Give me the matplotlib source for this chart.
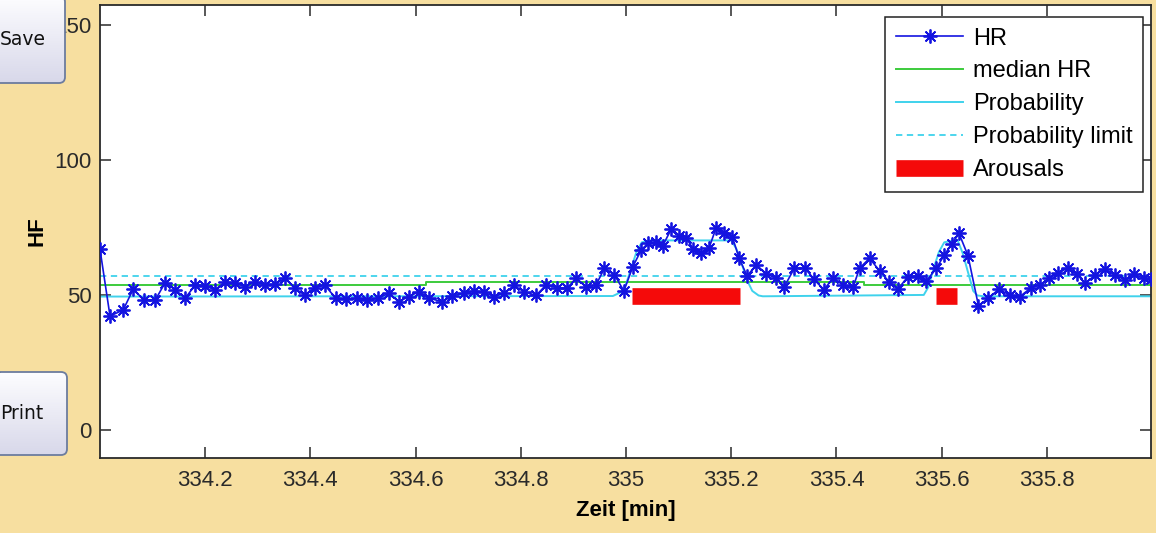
import numpy as np
import matplotlib
matplotlib.use("Agg")
import matplotlib.pyplot as plt
from matplotlib.colors import LinearSegmentedColormap
from matplotlib.patches import FancyBboxPatch

# Heart rate per beat (time in minutes, beats per minute)
hr_t = [334.000, 334.019, 334.044, 334.063, 334.084, 334.105, 334.124, 334.143,
        334.162, 334.181, 334.200, 334.219, 334.238, 334.257, 334.276, 334.295,
        334.314, 334.333, 334.352, 334.370, 334.389, 334.408, 334.427, 334.448,
        334.467, 334.489, 334.508, 334.529, 334.549, 334.568, 334.587, 334.606,
        334.625, 334.651, 334.670, 334.692, 334.711, 334.730, 334.749, 334.768,
        334.787, 334.806, 334.829, 334.848, 334.869, 334.888, 334.905, 334.924,
        334.943, 334.959, 334.978, 334.996, 335.013, 335.029, 335.042, 335.057,
        335.070, 335.086, 335.101, 335.114, 335.128, 335.143, 335.158, 335.171,
        335.187, 335.202, 335.215, 335.230, 335.248, 335.267, 335.286, 335.301,
        335.320, 335.340, 335.357, 335.376, 335.394, 335.413, 335.432, 335.444,
        335.463, 335.482, 335.500, 335.517, 335.536, 335.556, 335.571, 335.590,
        335.605, 335.619, 335.633, 335.650, 335.670, 335.689, 335.709, 335.730,
        335.749, 335.770, 335.787, 335.804, 335.822, 335.840, 335.857, 335.873,
        335.892, 335.910, 335.929, 335.948, 335.965, 335.984, 335.998]
hr_v = [66.9, 42.2, 44.4, 52.1, 48.1, 48.1, 54.6, 51.9,
        48.8, 53.7, 53.3, 51.9, 54.9, 54.3, 53.1, 54.9,
        53.7, 54.0, 56.2, 52.5, 50.0, 52.5, 53.7, 48.8,
        48.4, 48.8, 48.1, 48.8, 50.6, 47.5, 49.4, 51.2,
        48.8, 47.5, 49.7, 50.6, 51.5, 51.0, 49.4, 50.6,
        53.5, 51.2, 49.8, 53.7, 52.7, 52.5, 56.2, 53.1,
        53.7, 59.9, 57.4, 51.5, 60.5, 66.7, 69.1, 69.5,
        68.3, 74.4, 71.9, 71.2, 67.0, 65.4, 67.5, 74.7,
        72.8, 71.6, 63.6, 57.1, 61.1, 57.7, 56.2, 53.1,
        59.9, 59.9, 55.9, 51.9, 56.4, 53.5, 53.1, 59.9,
        63.6, 58.9, 54.9, 52.2, 56.8, 57.1, 55.2, 59.9,
        64.8, 68.8, 72.8, 64.6, 46.0, 48.8, 52.2, 49.8,
        49.4, 52.7, 53.7, 56.2, 58.0, 60.1, 57.7, 54.3,
        57.4, 59.6, 57.4, 55.6, 57.7, 56.2, 55.9]

# Running median of HR (piecewise constant)
median_t = [334.000, 334.619, 335.453, 335.998]
median_v = [53.7, 54.9, 53.8, 53.8]

# Arousal probability, scaled onto the HR axis
prob_t = [334.000, 334.975, 334.990, 335.000, 335.010, 335.020, 335.030, 335.045,
          335.200, 335.210, 335.220, 335.230, 335.240, 335.252, 335.260, 335.566,
          335.575, 335.585, 335.595, 335.605, 335.630, 335.640, 335.650, 335.660,
          335.668, 335.680, 335.998]
prob_v = [49.4, 49.6, 51.0, 54.0, 60.0, 66.0, 69.5, 70.2,
          70.2, 67.0, 61.5, 55.5, 51.5, 49.8, 49.5, 50.0,
          53.0, 60.0, 66.0, 69.5, 70.4, 65.5, 58.5, 51.5,
          49.8, 49.5, 49.5]
prob_limit = 57.0

# Detected arousals
arousal_start = [335.011, 335.589]
arousal_end = [335.216, 335.630]
arousal_level = 49.6

x_ticks = [334.2, 334.4, 334.6, 334.8, 335.0, 335.2, 335.4, 335.6, 335.8]
x_labels = ["334.2", "334.4", "334.6", "334.8", "335", "335.2", "335.4", "335.6", "335.8"]
y_ticks = [0, 50, 100, 150]

BG = "#F7DFA0"
W, H = 1156, 533
plt.rcParams["font.family"] = ["Liberation Sans", "DejaVu Sans"]

fig = plt.figure(figsize=(W / 100, H / 100), dpi=100, facecolor=BG)
ax = fig.add_axes([100 / W, 1 - 458 / H, 1051 / W, 453 / H])

ax.plot(hr_t, hr_v, color="#1414E0", lw=1.2, marker=(8, 2, 0), ms=10, mew=1.3,
        label="HR", zorder=3)
ax.plot(median_t, median_v, drawstyle="steps-post", color="#3CCB3C", lw=1.4,
        label="median HR", zorder=2)
ax.plot(prob_t, prob_v, color="#3FD2EC", lw=1.4, label="Probability", zorder=2)
ax.axhline(prob_limit, color="#3FD2EC", lw=1.3, dashes=(3.5, 2.5),
           label="Probability limit", zorder=2)
for i, (s, e) in enumerate(zip(arousal_start, arousal_end)):
    ax.plot([s, e], [arousal_level, arousal_level], color="#F50A0A", lw=12,
            solid_capstyle="butt", label="Arousals" if i == 0 else "_nolegend_",
            zorder=4)

ax.set_xlim(hr_t[0], hr_t[-1])
ax.set_ylim(-10.4, 157.4)
ax.set_xticks(x_ticks)
ax.set_xticklabels(x_labels)
ax.set_yticks(y_ticks)
ax.tick_params(direction="in", top=True, right=True, length=8, width=1.1,
               labelsize=16, colors="#2A2A2A")
ax.tick_params(axis="x", pad=9)
ax.tick_params(axis="y", pad=6)
for sp in ax.spines.values():
    sp.set_linewidth(1.3)
    sp.set_color("#2A2A2A")
ax.set_xlabel("Zeit [min]", fontsize=16, fontweight="bold", labelpad=6)
ax.set_ylabel("HF", fontsize=16, fontweight="bold", labelpad=5)

# legend box anchored a few pixels inside the top-right corner
leg = ax.legend(loc="upper right", bbox_to_anchor=(0.9924, 0.9735),
                fontsize=17, handlelength=2.85, handletextpad=0.4,
                labelspacing=0.46, borderpad=0.45, borderaxespad=0,
                fancybox=False, framealpha=1, edgecolor="#222222")
leg.get_frame().set_linewidth(1.1)

# GUI buttons on the left edge, drawn over the figure
ui = fig.add_axes([0, 0, 1, 1], zorder=10)
ui.patch.set_alpha(0)
ui.axis("off")
btn_cmap = LinearSegmentedColormap.from_list("btn", ["#FDFDFF", "#D8D8EA"])


def draw_button(x0, y0, w, h, text, tx):
    box = FancyBboxPatch((x0, y0), w, h, boxstyle="round,pad=0,rounding_size=6",
                         fc="none", ec="#6C7C9E", lw=1.3, zorder=3)
    ui.add_patch(box)
    grad = np.linspace(0, 1, 64).reshape(-1, 1)
    im = ui.imshow(grad, extent=(x0, x0 + w, y0 + h, y0), cmap=btn_cmap,
                   aspect="auto", zorder=2)
    im.set_clip_path(box)
    ui.text(tx, y0 + h / 2, text, ha="center", va="center", fontsize=13.5,
            family="DejaVu Sans", color="#111111", zorder=4)


draw_button(-6, -4, 71, 87, "Save", 23)
draw_button(-6, 372, 73, 83, "Print", 22)
ui.set_xlim(0, W)
ui.set_ylim(H, 0)

fig.savefig("out.png", dpi=100, facecolor=BG)
